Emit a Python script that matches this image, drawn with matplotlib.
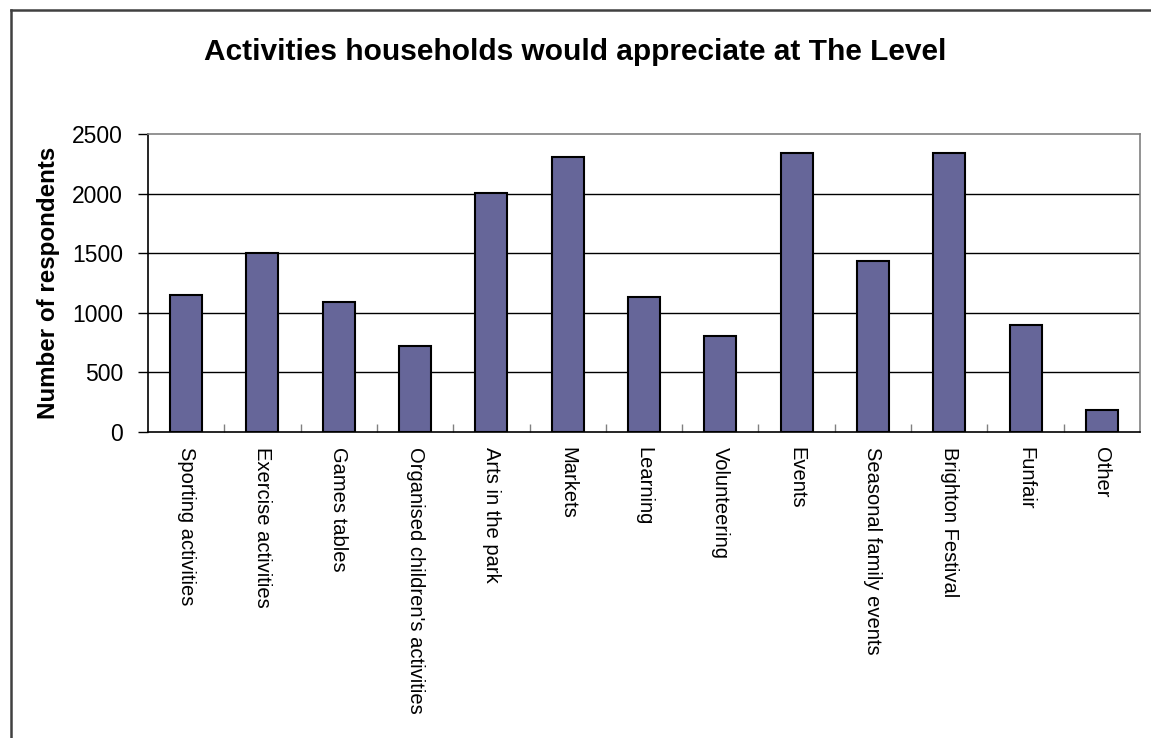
import matplotlib.pyplot as plt
from matplotlib.lines import Line2D

categories = [
    'Sporting activities', 'Exercise activities', 'Games tables',
    "Organised children's activities", 'Arts in the park', 'Markets',
    'Learning', 'Volunteering', 'Events', 'Seasonal family events',
    'Brighton Festival', 'Funfair', 'Other',
]
respondents = [1150, 1500, 1090, 725, 2010, 2310, 1135, 805, 2340, 1440, 2340, 900, 185]
y_ticks = [0, 500, 1000, 1500, 2000, 2500]

plt.rcParams['font.family'] = ['Liberation Sans', 'DejaVu Sans']

fig = plt.figure(figsize=(11.51, 7.38), dpi=100)
ax = fig.add_axes([148 / 1151, 1 - 432 / 738, 992 / 1151, (432 - 134.3) / 738])

x = list(range(len(categories)))
ax.bar(x, respondents, width=0.42, color='#666699', edgecolor='black', linewidth=1.5, zorder=3)

ax.set_xlim(-0.5, len(categories) - 0.5)
ax.set_ylim(0, 2500)
ax.set_yticks(y_ticks)
ax.set_yticklabels([str(v) for v in y_ticks], fontsize=16.5)
ax.tick_params(axis='y', direction='out', length=7, width=1, pad=11)

# category ticks sit between bars, labels sit under bars
ax.set_xticks([i + 0.5 for i in x[:-1]])
ax.set_xticklabels([])
ax.tick_params(axis='x', which='major', direction='in', length=6, width=1, color='#808080')
ax.set_xticks(x, minor=True)
ax.set_xticklabels(categories, minor=True, rotation=-90, fontsize=14.5)
ax.tick_params(axis='x', which='minor', length=0, pad=11)

for v in y_ticks[1:-1]:
    ax.axhline(v, color='black', linewidth=1, zorder=1)

ax.spines['left'].set_color('black')
ax.spines['bottom'].set_color('black')
ax.spines['top'].set_color('#808080')
ax.spines['right'].set_color('#808080')
for s in ax.spines.values():
    s.set_linewidth(1.2)

ax.set_ylabel('Number of respondents', fontsize=17.4, fontweight='bold')
ax.yaxis.set_label_coords(-0.0887, 0.5)

fig.text(0.5, 1 - 52 / 738, 'Activities households would appreciate at The Level',
         fontsize=21.5, fontweight='bold', ha='center', va='center')

# outer chart frame (left and top edges visible)
fig.add_artist(Line2D([11 / 1151, 11 / 1151], [0, 1 - 10 / 738], color='#404040', linewidth=1.8))
fig.add_artist(Line2D([11 / 1151, 1], [1 - 10 / 738, 1 - 10 / 738], color='#404040', linewidth=1.8))

fig.savefig('out.png', dpi=100)
